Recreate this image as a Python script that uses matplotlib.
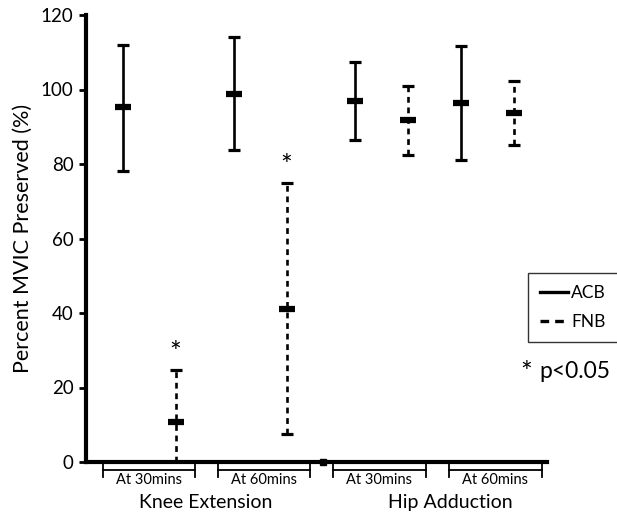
import matplotlib.pyplot as plt

plt.rcParams['font.family'] = ['Lato', 'DejaVu Sans']

# Data (percent MVIC preserved)
groups = ['Knee Extension', 'Hip Adduction']
times = ['At 30mins', 'At 60mins', 'At 30mins', 'At 60mins']
acb_mean = [95.2, 98.8, 97.0, 96.4]
acb_low = [78.2, 83.8, 86.5, 81.0]
acb_high = [112.0, 114.0, 107.4, 111.7]
fnb_mean = [10.8, 41.0, 91.9, 93.6]
fnb_low = [0.0, 7.5, 82.3, 85.0]
fnb_high = [24.6, 74.8, 101.0, 102.2]
significant = [True, True, False, False]

# layout (x in axis units)
centers = [63, 174, 295, 401]
offset = 26.5
spans = [(17, 109), (132, 224), (247, 340), (363, 456)]

fig = plt.figure(figsize=(6.17, 5.13), dpi=100)
ax = fig.add_axes([86/617, 1-462/513, 461/617, 447/513])
ax.set_xlim(0, 461)
ax.set_ylim(0, 120)


def draw(xs, mean, lo, hi, dashed):
    ls = (0, (2.2, 1.8)) if dashed else '-'
    ax.vlines(xs, lo, hi, colors='black', linewidth=1.9, linestyles=[ls])
    ax.plot(xs, lo, ls='none', marker='_', ms=9, mew=2.3, color='black')
    ax.plot(xs, hi, ls='none', marker='_', ms=9, mew=2.3, color='black')
    ax.plot(xs, mean, ls='none', marker='_', ms=11, mew=4.5, color='black',
            clip_on=False)


acb_x = [c - offset for c in centers]
fnb_x = [c + offset for c in centers]
draw(acb_x, acb_mean, acb_low, acb_high, False)
draw(fnb_x, fnb_mean, fnb_low, fnb_high, True)

for x, h, s in zip(fnb_x, fnb_high, significant):
    if s:
        ax.text(x, h + 4.5, '*', ha='center', va='center', fontsize=20)

# stray marker on the axis
ax.plot([237], [0], marker='s', ms=4.5, color='black', clip_on=False)

# brackets under the axis
for (a, b), t in zip(spans, times):
    ax.plot([a, b], [-2.1, -2.1], color='black', lw=1.3, clip_on=False)
    ax.plot([a, a], [-0.4, -3.9], color='black', lw=1.3, clip_on=False)
    ax.plot([b, b], [-0.4, -3.9], color='black', lw=1.3, clip_on=False)
    ax.text((a + b) / 2, -4.9, t, ha='center', va='center', fontsize=10.5)

ax.text(120, -10.9, groups[0], ha='center', va='center', fontsize=14)
ax.text(364, -10.9, groups[1], ha='center', va='center', fontsize=14)

for side in ['top', 'right']:
    ax.spines[side].set_visible(False)
ax.spines['left'].set_linewidth(3)
ax.spines['bottom'].set_linewidth(3)
ax.set_xticks([])
ax.set_yticks([0, 20, 40, 60, 80, 100, 120])
ax.tick_params(axis='y', length=5, width=2, labelsize=13.5, pad=4)
ax.set_ylabel('Percent MVIC Preserved (%)', fontsize=15.5, labelpad=6)

h1, = ax.plot([], [], color='black', lw=2.4)
h2, = ax.plot([], [], color='black', lw=2.4, ls=(0, (2.6, 1.8)))
leg = fig.legend([h1, h2], ['ACB', 'FNB'], loc='upper left',
                 bbox_to_anchor=(528/617, 1-273/513), fontsize=12.5,
                 fancybox=False, edgecolor='black', handlelength=1.6,
                 handletextpad=0.2, borderpad=0.7, labelspacing=0.75,
                 borderaxespad=0)
leg.get_frame().set_linewidth(1.0)

fig.text(526/617, 1-374/513, '*', ha='center', va='center', fontsize=20)
fig.text(539/617, 1-372/513, 'p<0.05', ha='left', va='center', fontsize=16.5)

fig.savefig('out.png', dpi=100)
